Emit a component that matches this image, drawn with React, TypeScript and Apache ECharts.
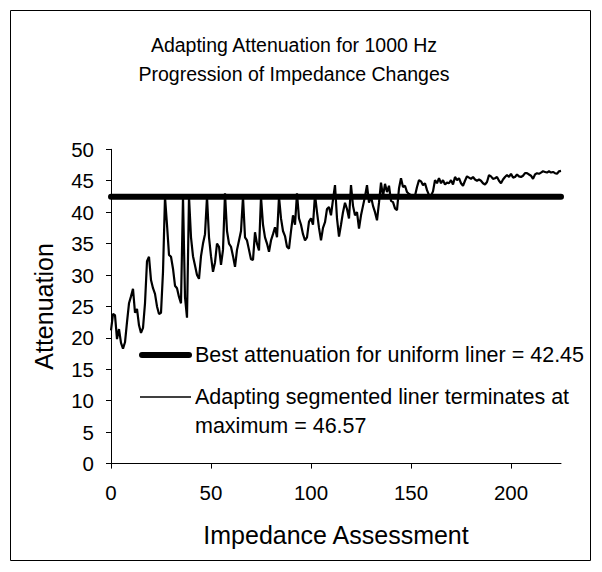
import React, { useEffect, useRef } from "react";
import * as echarts from "echarts";

const FONT = "'Liberation Sans', Arial, Helvetica, sans-serif";

const titleLines = ["Adapting Attenuation for 1000 Hz", "Progression of Impedance Changes"];
const xAxisName = "Impedance Assessment";
const yAxisName = "Attenuation";
const xTicks = [0, 50, 100, 150, 200];
const xMax = 225;
const yMax = 50;
const yInterval = 5;

const bestUniform = 42.45;
const bestLabel = "Best attenuation for uniform liner = 42.45";
const adaptLabel1 = "Adapting segmented liner terminates at";
const adaptLabel2 = "maximum = 46.57";

// Attenuation at each impedance assessment, index = assessment number (0..225)
const attenuation = [
  21.2, 23.8, 23.6, 19.8, 21.4, 19.2, 18.3, 19.3, 22.5, 25.5,
  26.6, 27.8, 24.0, 24.6, 22.0, 20.8, 21.6, 25.5, 32.2, 32.9,
  29.2, 27.9, 27.0, 25.0, 23.8, 24.0, 30.5, 42.45, 38.0, 33.2,
  32.9, 31.0, 28.3, 27.9, 26.5, 25.5, 42.45, 26.5, 23.2, 42.45,
  36.0, 33.0, 31.5, 30.0, 29.4, 33.0, 35.0, 36.5, 42.45, 36.0,
  33.0, 30.5, 32.0, 35.0, 34.5, 31.6, 34.0, 43.0, 37.0, 35.0,
  34.5, 33.0, 31.3, 34.0, 35.5, 37.0, 42.45, 36.0, 35.5, 34.0,
  32.5, 32.4, 36.8, 35.0, 33.9, 42.45, 38.0, 36.0, 35.0, 33.7,
  35.5, 36.5, 37.6, 36.0, 42.45, 39.0, 37.0, 36.2, 34.5, 34.2,
  37.0, 39.5, 38.0, 43.0, 39.0, 38.0, 36.5, 35.5, 36.0, 38.5,
  39.0, 38.0, 42.8, 40.0, 37.5, 35.5, 37.5, 38.4, 40.5, 40.8,
  39.5, 42.0, 44.3, 39.0, 36.1, 38.0, 40.0, 41.5, 40.5, 39.0,
  44.3, 41.0, 39.5, 40.0, 37.4, 39.5, 41.0, 42.5, 44.3, 41.5,
  42.5, 41.0, 40.0, 38.7, 41.5, 44.7, 42.5, 44.5, 43.2, 44.2,
  41.8, 41.6, 40.6, 40.3, 43.8, 45.4, 44.0, 44.2, 43.2, 42.9,
  42.7, 42.5, 42.6, 44.0, 45.1, 44.9, 44.3, 44.6, 43.5, 42.7,
  42.6, 43.3, 45.1, 44.6, 45.4, 44.6, 45.1, 44.4, 44.7, 44.6,
  45.1, 44.4, 45.6, 45.1, 45.4, 44.6, 44.2, 45.0, 45.7, 45.5,
  45.3, 45.6, 45.2, 45.0, 45.2, 45.0, 44.6, 44.4, 44.8, 45.9,
  45.7, 45.3, 45.4, 45.6, 45.0, 44.6, 45.2, 45.6, 45.9, 45.6,
  46.1, 45.5, 45.6, 46.0, 45.7, 45.6, 45.8, 46.2, 46.2, 46.0,
  45.8, 45.3, 46.0, 46.2, 46.1, 46.3, 46.5, 46.4, 46.3, 46.5,
  46.3, 46.4, 46.2, 46.1, 46.5, 46.57,
];

export default function App() {
  const ref = useRef<HTMLDivElement>(null);

  useEffect(() => {
    if (!ref.current) return;
    const chart = echarts.init(ref.current, undefined, { renderer: "svg" });
    const black = "#000";
    chart.setOption({
      animation: false,
      backgroundColor: "#fff",
      textStyle: { fontFamily: FONT, color: black },
      title: {
        text: titleLines.join("\n"),
        left: 289,
        textAlign: "center",
        top: 25,
        textStyle: { fontFamily: FONT, fontSize: 19.5, fontWeight: "normal", color: black, lineHeight: 29 },
      },
      grid: { left: 111, right: 41, top: 149.3, bottom: 108.4, containLabel: false },
      xAxis: {
        type: "value",
        min: 0,
        max: xMax,
        interval: 50,
        name: xAxisName,
        nameLocation: "middle",
        nameGap: 59,
        nameTextStyle: { fontFamily: FONT, fontSize: 25, color: black },
        axisLine: { show: true, lineStyle: { color: black, width: 1 } },
        axisTick: { show: true, length: 5, lineStyle: { color: black }, customValues: xTicks },
        axisLabel: { fontFamily: FONT, fontSize: 20.5, color: black, margin: 18, customValues: xTicks },
        splitLine: { show: false },
      },
      yAxis: {
        type: "value",
        min: 0,
        max: yMax,
        interval: yInterval,
        name: yAxisName,
        nameLocation: "middle",
        nameGap: 55,
        nameRotate: 90,
        nameTextStyle: { fontFamily: FONT, fontSize: 25, color: black },
        axisLine: { show: true, lineStyle: { color: black, width: 1 } },
        axisTick: { show: true, length: 5, lineStyle: { color: black } },
        axisLabel: { fontFamily: FONT, fontSize: 20.5, color: black, margin: 17 },
        splitLine: { show: false },
      },
      series: [
        {
          name: bestLabel,
          type: "line",
          data: [[0, bestUniform], [xMax, bestUniform]],
          symbol: "none",
          lineStyle: { color: black, width: 6, cap: "round" },
          z: 2,
        },
        {
          name: adaptLabel1,
          type: "line",
          data: attenuation.map((v, i) => [i, v]),
          symbol: "none",
          lineStyle: { color: black, width: 2.2 },
          z: 3,
        },
      ],
      graphic: [
        {
          type: "rect",
          shape: { x: 10.5, y: 10.5, width: 580, height: 550 },
          style: { fill: "none", stroke: black, lineWidth: 1 },
          silent: true,
        },
        {
          type: "line",
          shape: { x1: 142, y1: 355, x2: 189, y2: 355 },
          style: { stroke: black, lineWidth: 6, lineCap: "round" },
        },
        {
          type: "text",
          x: 195,
          y: 355,
          style: { text: bestLabel, fontFamily: FONT, fontSize: 21.5, fill: black, verticalAlign: "middle" },
        },
        {
          type: "line",
          shape: { x1: 140, y1: 397, x2: 191, y2: 397 },
          style: { stroke: black, lineWidth: 1.5 },
        },
        {
          type: "text",
          x: 195,
          y: 397,
          style: { text: adaptLabel1, fontFamily: FONT, fontSize: 21.5, fill: black, verticalAlign: "middle" },
        },
        {
          type: "text",
          x: 195,
          y: 426,
          style: { text: adaptLabel2, fontFamily: FONT, fontSize: 21.5, fill: black, verticalAlign: "middle" },
        },
      ],
    });
    return () => chart.dispose();
  }, []);

  return (
    <div
      ref={ref}
      style={{ position: "fixed", left: 0, top: 0, width: 602, height: 572, background: "#fff" }}
    />
  );
}
